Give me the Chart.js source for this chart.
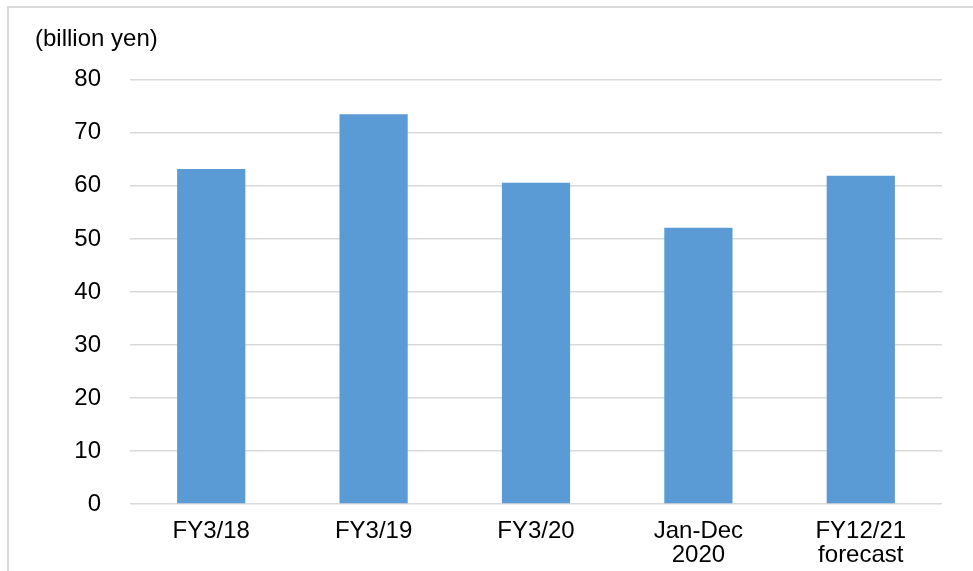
<!DOCTYPE html>
<html lang="en">
<head>
    <meta charset="UTF-8">
    <title>Billion yen by fiscal period</title>
    <script src="https://cdn.jsdelivr.net/npm/chart.js"></script>
    <style>
        body { margin: 0; padding: 0; background: #fff; font-family: "Liberation Sans", Arial, sans-serif; }
        .wrap { position: relative; width: 973px; height: 571px; }
        .frame { position: absolute; left: 7px; top: 6px; right: -10px; bottom: -10px;
                 border-top: 2px solid #d9d9d9; border-left: 2px solid #d9d9d9; }
        canvas { position: absolute; left: 0; top: 0; }
    </style>
</head>
<body>
    <div class="wrap">
        <div class="frame"></div>
        <canvas id="myChart" width="973" height="571"></canvas>
    </div>

    <script>
        // data
        const periods = [['FY3/18'], ['FY3/19'], ['FY3/20'], ['Jan-Dec', '2020'], ['FY12/21', 'forecast']];
        const values = [63.2, 73.5, 60.6, 52.1, 61.9];
        const unitLabel = '(billion yen)';
        const yMax = 80;
        const yStep = 10;

        const baseFont = { family: '"Liberation Sans", Arial, sans-serif', size: 24, weight: 'normal' };

        const ctx = document.getElementById('myChart').getContext('2d');
        new Chart(ctx, {
            type: 'bar',
            data: {
                labels: periods,
                datasets: [{
                    data: values,
                    backgroundColor: '#5b9bd5',
                    borderWidth: 0,
                    barPercentage: 0.42,
                    categoryPercentage: 1
                }]
            },
            options: {
                responsive: false,
                animation: false,
                layout: { padding: { left: 35, right: 31, bottom: 0 } },
                plugins: {
                    legend: { display: false },
                    tooltip: { enabled: false },
                    title: {
                        display: true,
                        text: unitLabel,
                        align: 'start',
                        color: '#000',
                        font: baseFont,
                        padding: { top: 25, bottom: 26 }
                    }
                },
                scales: {
                    x: {
                        afterFit: scale => { scale.height = 67; },
                        grid: { display: false },
                        border: { display: false },
                        ticks: {
                            color: '#000',
                            font: Object.assign({ lineHeight: 1.0 }, baseFont),
                            padding: 7,
                            maxRotation: 0,
                            autoSkip: false
                        }
                    },
                    y: {
                        min: 0,
                        max: yMax,
                        afterFit: scale => { scale.width = 95; },
                        grid: { color: '#d9d9d9', lineWidth: 1.5, drawTicks: false },
                        border: { display: false },
                        ticks: {
                            stepSize: yStep,
                            color: '#000',
                            font: baseFont,
                            padding: 29
                        }
                    }
                }
            }
        });
    </script>
</body>
</html>
